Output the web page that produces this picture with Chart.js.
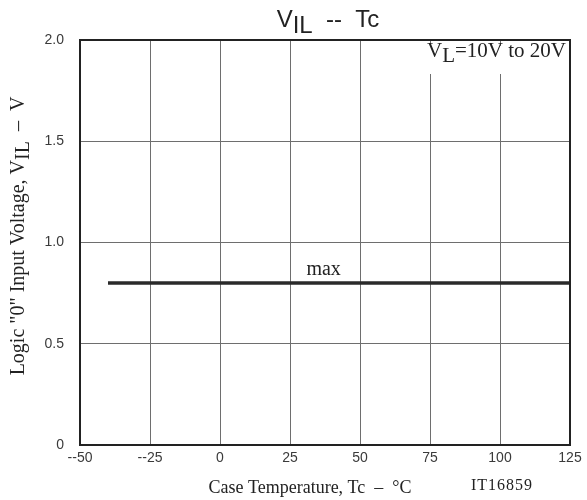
<!DOCTYPE html>
<html>
<head>
<meta charset="utf-8">
<script src="https://cdn.jsdelivr.net/npm/chart.js@4.4.1/dist/chart.umd.min.js"></script>
<style>
  body { margin: 0; background: #fff; }
  canvas { display: block; }
</style>
</head>
<body>
<canvas id="vilChart" width="587" height="500"></canvas>
<script>
// Datos
const tempTicks = [-50, -25, 0, 25, 50, 75, 100, 125];
const tempTickLabels = ['--50', '--25', '0', '25', '50', '75', '100', '125'];
const vilTicks = [0, 0.5, 1.0, 1.5, 2.0];
const vilTickLabels = ['0', '0.5', '1.0', '1.5', '2.0'];
const lineTemps = [-40, 125];
const vilMax = [0.8, 0.8];

const SERIF = '"Liberation Serif", "Times New Roman", serif';
const SANS = '"Liberation Sans", Arial, sans-serif';
const NARROW = '"Liberation Sans Narrow", "Liberation Sans", Arial, sans-serif';
const INK = '#222';

// Dibuja texto por partes (para subindices)
function drawParts(ctx, parts, x, y, align) {
    let total = 0;
    parts.forEach(p => {
        ctx.font = p.font;
        p.w = ctx.measureText(p.t).width;
        total += p.w;
    });
    let cx = align === 'center' ? x - total / 2 : (align === 'right' ? x - total : x);
    parts.forEach(p => {
        ctx.font = p.font;
        ctx.fillText(p.t, cx, y + (p.dy || 0));
        cx += p.w;
    });
}

const textPlugin = {
    id: 'textPlugin',
    afterDraw(chart) {
        const ctx = chart.ctx;
        const area = chart.chartArea;
        const xs = chart.scales.x;
        const ys = chart.scales.y;
        ctx.save();
        ctx.fillStyle = INK;
        ctx.textAlign = 'left';
        ctx.textBaseline = 'alphabetic';

        // marco completo
        ctx.strokeStyle = INK;
        ctx.lineWidth = 2;
        ctx.strokeRect(area.left, area.top, area.right - area.left, area.bottom - area.top);

        // titulo
        const tf = '24px ' + NARROW;
        drawParts(ctx, [
            { t: 'V', font: tf },
            { t: 'IL', font: tf, dy: 6 },
            { t: '  --  ', font: tf },
            { t: 'Tc', font: tf }
        ], 328, 27, 'center');

        // caja de VL
        ctx.fillStyle = '#fff';
        ctx.fillRect(418, 46, 150, 28);
        ctx.fillStyle = INK;
        const lf = '21px ' + SERIF;
        drawParts(ctx, [
            { t: 'V', font: lf },
            { t: 'L', font: lf, dy: 5 },
            { t: '=10V to 20V', font: lf }
        ], 566, 57, 'right');

        // etiqueta max
        const sf = '20px ' + SERIF;
        ctx.font = sf;
        ctx.textAlign = 'center';
        ctx.fillText('max', xs.getPixelForValue(37), ys.getPixelForValue(0.84));
        ctx.textAlign = 'left';

        // titulo eje x
        drawParts(ctx, [
            { t: 'Case Temperature, Tc  \u2013  \u00b0C', font: '18px ' + SERIF }
        ], 310, 493, 'center');

        ctx.font = '16px ' + SERIF;
        ctx.letterSpacing = '1px';
        ctx.fillText('IT16859', 471, 490);
        ctx.letterSpacing = '0px';

        // titulo eje y
        ctx.translate(24, 236);
        ctx.rotate(-Math.PI / 2);
        drawParts(ctx, [
            { t: 'Logic "0" Input Voltage, V', font: sf },
            { t: 'IL', font: sf, dy: 5 },
            { t: '  \u2013  V', font: sf }
        ], 0, 0, 'center');
        ctx.restore();
    }
};

const chart = new Chart(document.getElementById('vilChart').getContext('2d'), {
    type: 'scatter',
    data: {
        datasets: [{
            label: 'max',
            data: lineTemps.map((t, i) => ({ x: t, y: vilMax[i] })),
            showLine: true,
            borderColor: '#2a2a2a',
            borderWidth: 3.5,
            pointRadius: 0,
            fill: false
        }]
    },
    options: {
        responsive: false,
        animation: false,
        layout: {
            autoPadding: false,
            padding: { top: 40, right: 17, left: 0, bottom: 0 }
        },
        plugins: {
            legend: { display: false },
            title: { display: false },
            tooltip: { enabled: false }
        },
        scales: {
            x: {
                type: 'linear',
                min: tempTicks[0],
                max: tempTicks[tempTicks.length - 1],
                afterBuildTicks: (axis) => { axis.ticks = tempTicks.map(v => ({ value: v })); },
                afterFit: (axis) => { axis.height = 55; },
                grid: { color: '#6e6e6e', lineWidth: 1, drawTicks: false },
                border: { display: true, color: INK, width: 2 },
                ticks: {
                    padding: 5,
                    color: '#3a3a3a',
                    font: { family: SANS, size: 14 },
                    maxRotation: 0,
                    callback: (v) => tempTickLabels[tempTicks.indexOf(v)]
                }
            },
            y: {
                min: vilTicks[0],
                max: vilTicks[vilTicks.length - 1],
                afterBuildTicks: (axis) => { axis.ticks = vilTicks.map(v => ({ value: v })); },
                afterFit: (axis) => { axis.width = 80; },
                grid: { color: '#6e6e6e', lineWidth: 1, drawTicks: false },
                border: { display: true, color: INK, width: 2 },
                ticks: {
                    padding: 16,
                    color: '#3a3a3a',
                    font: { family: SANS, size: 14 },
                    callback: (v) => vilTickLabels[vilTicks.indexOf(v)]
                }
            }
        }
    },
    plugins: [textPlugin]
});
</script>
</body>
</html>
